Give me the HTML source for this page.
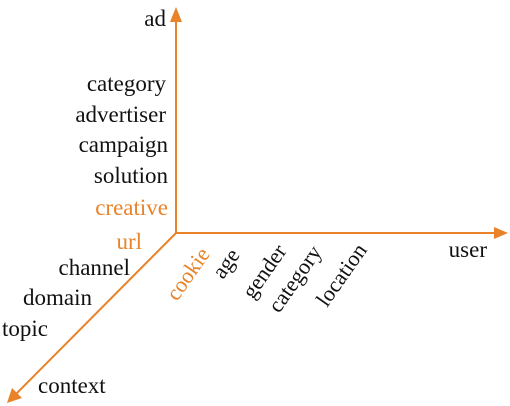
<!DOCTYPE html>
<html><head><style>
html,body{margin:0;padding:0;background:#fff;}
svg{display:block;}
text{font-family:"Liberation Serif",serif;font-size:23px;fill:#111;}
.r{font-size:22px;}
.o{fill:#E8832A;}
</style></head><body>
<svg width="510" height="406" viewBox="0 0 510 406" xmlns="http://www.w3.org/2000/svg">
<g stroke="#E8832A" stroke-width="2" fill="none">
<line x1="176" y1="233" x2="176" y2="20"/>
<line x1="176" y1="233" x2="496" y2="233"/>
<line x1="176" y1="233" x2="16" y2="394"/>
</g>
<g fill="#E8832A">
<polygon points="176,7 170,22 182,22"/>
<polygon points="508,233 494,227 494,239"/>
<polygon points="7,403 12,388 22,398"/>
</g>
<g text-anchor="end">
<text x="166" y="26">ad</text>
<text x="166" y="91">category</text>
<text x="166" y="122">advertiser</text>
<text x="168" y="152">campaign</text>
<text x="168" y="183">solution</text>
<text x="168" y="215" class="o">creative</text>
<text x="142" y="249" class="o">url</text>
<text x="130" y="275">channel</text>
<text x="92" y="305">domain</text>
<text x="48" y="336">topic</text>
<text x="487" y="257">user</text>
</g>
<text x="38" y="393">context</text>
<text class="r o" transform="translate(177,302) rotate(-55)">cookie</text>
<text class="r" transform="translate(223,280) rotate(-55)">age</text>
<text class="r" transform="translate(253,300) rotate(-55)">gender</text>
<text class="r" transform="translate(279,314) rotate(-55)">category</text>
<text class="r" transform="translate(327,308) rotate(-55)">location</text>
</svg>
</body></html>
